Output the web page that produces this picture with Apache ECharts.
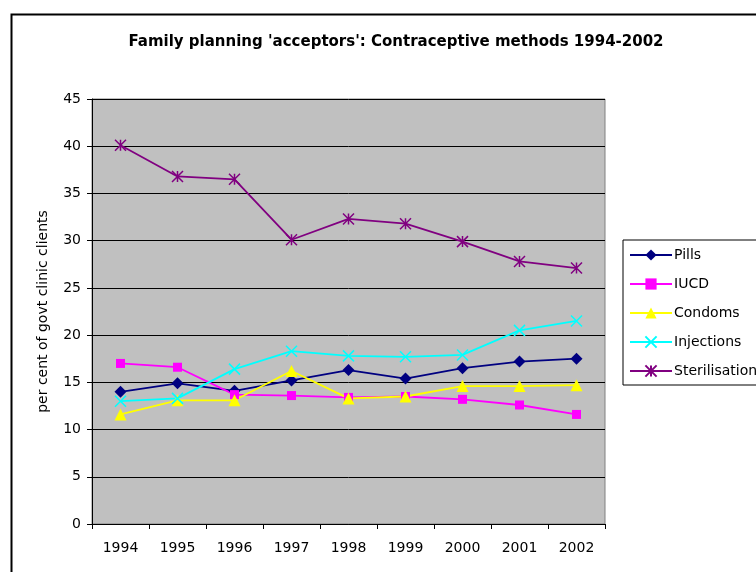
<!DOCTYPE html>
<html>
<head>
<meta charset="utf-8">
<script src="https://cdn.jsdelivr.net/npm/echarts@6/dist/echarts.min.js"></script>
<style>
  html, body { margin: 0; padding: 0; background: #fff; }
  #chart { width: 756px; height: 572px; }
</style>
</head>
<body>
<div id="chart"></div>
<script>
// 数据
const years = ['1994', '1995', '1996', '1997', '1998', '1999', '2000', '2001', '2002']
const pills = [14.0, 14.9, 14.1, 15.2, 16.3, 15.4, 16.5, 17.2, 17.5]
const iucd = [17.0, 16.6, 13.7, 13.6, 13.4, 13.5, 13.2, 12.6, 11.6]
const condoms = [11.6, 13.1, 13.1, 16.2, 13.3, 13.5, 14.6, 14.6, 14.7]
const injections = [13.0, 13.3, 16.4, 18.3, 17.8, 17.7, 17.9, 20.5, 21.5]
const sterilisation = [40.1, 36.8, 36.5, 30.1, 32.3, 31.8, 29.9, 27.8, 27.1]

const FONT = 'DejaVu Sans, Arial, sans-serif'

function makeSeries(name, data, color, symbol, size, stroke) {
  return {
    name: name,
    type: 'line',
    data: data,
    symbol: symbol,
    symbolSize: size,
    showAllSymbol: true,
    lineStyle: { color: color, width: 1.8 },
    itemStyle: stroke
      ? { color: color, borderColor: color, borderWidth: 1.5 }
      : { color: color, borderWidth: 0 },
    emphasis: { disabled: true }
  }
}

const option = {
  animation: false,
  title: {
    text: "Family planning 'acceptors': Contraceptive methods 1994-2002",
    left: 391,
    textAlign: 'center',
    top: 30,
    textStyle: { fontFamily: FONT, fontSize: 15, fontWeight: 'bold', color: '#000' }
  },
  legend: {
    orient: 'vertical',
    left: 623,
    top: 240,
    width: 160,
    itemWidth: 42,
    itemHeight: 14,
    itemGap: 15,
    padding: [8, 40, 7, 6],
    borderColor: '#000',
    borderWidth: 1,
    backgroundColor: '#fff',
    textStyle: { fontFamily: FONT, fontSize: 14, color: '#000', padding: [0, 0, 0, -3] },
    data: ['Pills', 'IUCD', 'Condoms', 'Injections', 'Sterilisation']
  },
  graphic: [{
    type: 'rect',
    left: 9,
    top: 12,
    shape: { width: 800, height: 620 },
    style: { fill: 'none', stroke: '#000', lineWidth: 2 },
    silent: true
  }],
  grid: {
    left: 92,
    top: 99,
    width: 513,
    height: 425,
    show: true,
    backgroundColor: '#c0c0c0',
    borderColor: '#808080',
    borderWidth: 1
  },
  xAxis: {
    type: 'category',
    data: years,
    boundaryGap: true,
    axisLine: { lineStyle: { color: '#000', width: 1 } },
    axisTick: { show: true, length: 5, lineStyle: { color: '#000' } },
    axisLabel: { fontFamily: FONT, fontSize: 14, color: '#000', margin: 17 },
    splitLine: { show: false }
  },
  yAxis: {
    type: 'value',
    min: 0,
    max: 45,
    interval: 5,
    name: 'per cent of govt clinic clients',
    nameLocation: 'middle',
    nameGap: 42,
    nameTextStyle: { fontFamily: FONT, fontSize: 14, color: '#000' },
    axisLine: { show: true, lineStyle: { color: '#000', width: 1 } },
    axisTick: { show: true, length: 5, lineStyle: { color: '#000' } },
    axisLabel: { fontFamily: FONT, fontSize: 14, color: '#000', margin: 11 },
    splitLine: { show: true, lineStyle: { color: '#000', width: 1 } }
  },
  series: [
    makeSeries('Pills', pills, '#000080', 'diamond', 12, false),
    makeSeries('IUCD', iucd, '#ff00ff', 'rect', 9, false),
    makeSeries('Condoms', condoms, '#ffff00', 'triangle', 12, false),
    makeSeries('Injections', injections, '#00ffff', 'path://M0,0L10,10M10,0L0,10', 11, true),
    makeSeries('Sterilisation', sterilisation, '#800080', 'path://M0,0L10,10M10,0L0,10M5,0L5,10', 11, true)
  ]
}

const myChart = echarts.init(document.getElementById('chart'))
myChart.setOption(option)
</script>
</body>
</html>
